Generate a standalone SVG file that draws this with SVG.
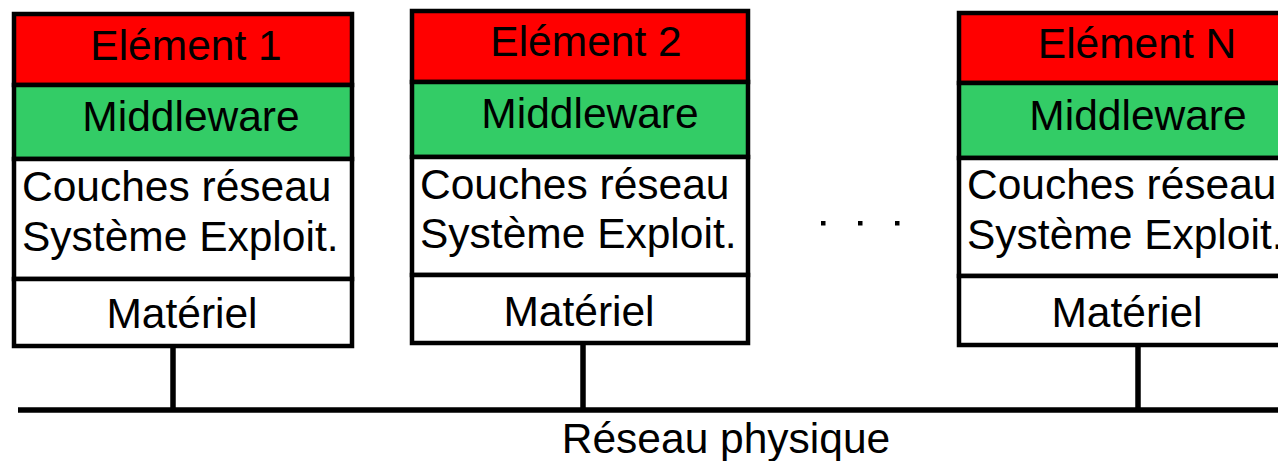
<svg xmlns="http://www.w3.org/2000/svg" width="1278" height="461" viewBox="0 0 1278 461">
<style>
.box{stroke:#000;stroke-width:4.5;stroke-linejoin:miter}
.red{fill:#ff0000}
.green{fill:#33cc66}
.white{fill:#fff}
.t{font-family:"Liberation Sans",Arial,sans-serif;font-size:42.5px;fill:#000}
.c{text-anchor:middle}
.wire{stroke:#000;stroke-width:5.5;fill:none}
</style>
<rect width="1278" height="461" fill="#fff"/>
<g id="connectors">
<line class="wire" x1="18" y1="410" x2="1278" y2="410"/>
<line class="wire" x1="173" y1="346" x2="173" y2="410"/>
<line class="wire" x1="583" y1="343" x2="583" y2="410"/>
<line class="wire" x1="1138" y1="345" x2="1138" y2="410"/>
</g>
<g id="element1">
<rect class="box red" x="14" y="14" width="338" height="71"/>
<rect class="box green" x="14" y="85" width="338" height="74"/>
<rect class="box white" x="14" y="159" width="338" height="120"/>
<rect class="box white" x="14" y="279" width="338" height="67"/>
<text class="t c" x="186" y="60">Elément 1</text>
<text class="t c" x="191" y="131">Middleware</text>
<text class="t" x="22" y="201">Couches réseau</text>
<text class="t" x="22" y="251">Système Exploit.</text>
<text class="t c" x="182" y="328">Matériel</text>
</g>
<g id="element2">
<rect class="box red" x="412" y="11" width="336" height="71"/>
<rect class="box green" x="412" y="82" width="336" height="75"/>
<rect class="box white" x="412" y="157" width="336" height="118"/>
<rect class="box white" x="412" y="275" width="336" height="68"/>
<text class="t c" x="586" y="56">Elément 2</text>
<text class="t c" x="590" y="128">Middleware</text>
<text class="t" x="420" y="199">Couches réseau</text>
<text class="t" x="420" y="248">Système Exploit.</text>
<text class="t c" x="579" y="326">Matériel</text>
</g>
<g id="elementN">
<rect class="box red" x="959" y="13" width="340" height="70"/>
<rect class="box green" x="959" y="83" width="340" height="75"/>
<rect class="box white" x="959" y="158" width="340" height="118"/>
<rect class="box white" x="959" y="276" width="340" height="69"/>
<text class="t c" x="1137" y="58">Elément N</text>
<text class="t c" x="1138" y="130">Middleware</text>
<text class="t" x="967" y="199">Couches réseau</text>
<text class="t" x="967" y="249">Système Exploit.</text>
<text class="t c" x="1127" y="327">Matériel</text>
</g>
<g id="ellipsis">
<rect x="821" y="221" width="4.5" height="4.5" fill="#000"/>
<rect x="858" y="221" width="4.5" height="4.5" fill="#000"/>
<rect x="895" y="221" width="4.5" height="4.5" fill="#000"/>
</g>
<g id="network-label">
<text class="t c" x="726" y="453">Réseau physique</text>
</g>
</svg>
